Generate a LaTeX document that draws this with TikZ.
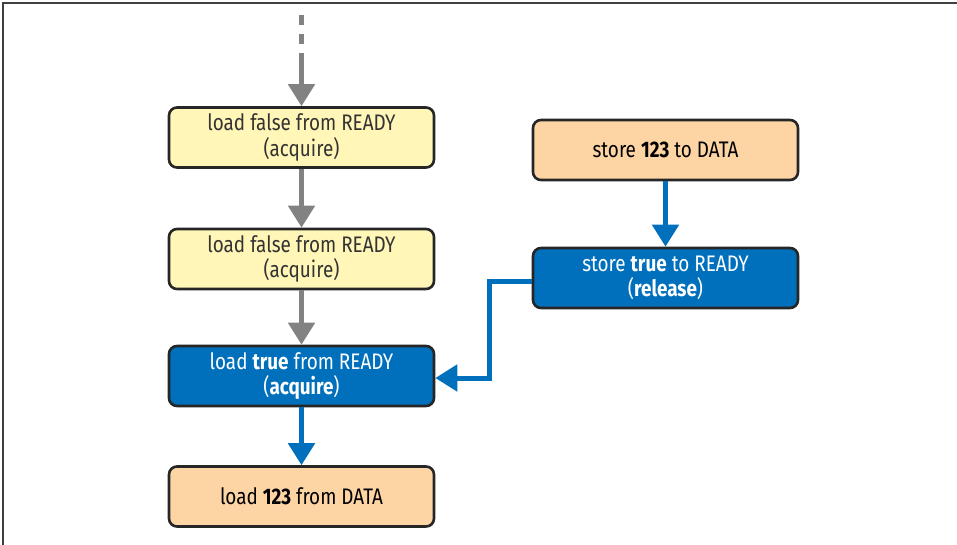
\documentclass[tikz,border=0pt]{standalone}
\usepackage{fontspec}
\setmainfont[FakeStretch=0.84]{Fira Sans}
\usetikzlibrary{arrows.meta}
\definecolor{ylw}{HTML}{FFF6B8}
\definecolor{org}{HTML}{FDD5A5}
\definecolor{blu}{HTML}{0070BC}
\definecolor{gry}{HTML}{828282}
\definecolor{txt}{HTML}{333333}
\begin{document}
\begin{tikzpicture}[x=1pt,y=-1pt,
  box/.style={draw=black!85,line width=2.6pt,rounded corners=8pt,minimum width=265pt,minimum height=60pt,align=center,font=\fontsize{22.5}{25.5}\selectfont,inner sep=0pt},
  ybox/.style={box,fill=ylw,text=txt},
  obox/.style={box,fill=org,text=black},
  bbox/.style={box,fill=blu,text=white},
  garr/.style={draw=gry,line width=5pt,-{Triangle[width=26pt,length=22pt]}},
  barr/.style={draw=blu,line width=5pt,-{Triangle[width=26pt,length=22pt]}}]
\useasboundingbox (0,0) rectangle (957,545);
\draw[line width=1.5pt,black!75] (3,545) -- (3,3) -- (957,3);
\node[ybox] (l1) at (301.5,137.5) {load false from READY\\(acquire)};
\node[ybox] (l2) at (301.5,259) {load false from READY\\(acquire)};
\node[bbox] (l3) at (301.5,376) {load \textbf{true} from READY\\(\textbf{acquire})};
\node[obox] (l4) at (301.5,496.5) {load \textbf{123} from DATA};
\node[obox] (r1) at (665.5,150) {store \textbf{123} to DATA};
\node[bbox] (r2) at (665.5,278) {store \textbf{true} to READY\\(\textbf{release})};
\coordinate (top) at (301.5,15);
\coordinate (mid) at (301.5,54);
\draw[gry,line width=5pt,dash pattern=on 10pt off 9pt] (top) -- (mid);
\draw[garr] (mid) -- (l1.north);
\draw[garr] (l1) -- (l2);
\draw[garr] (l2) -- (l3);
\draw[barr] (l3) -- (l4);
\draw[barr] (r1) -- (r2);
\draw[barr] (r2.west |- 0,281) -| (489,378) -- (l3.east |- 0,378);
\end{tikzpicture}
\end{document}
